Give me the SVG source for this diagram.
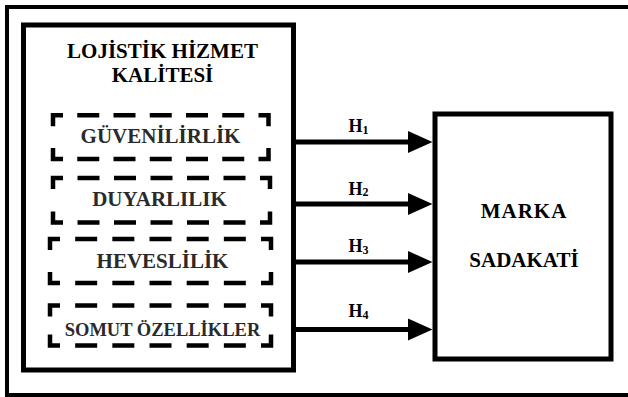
<svg xmlns="http://www.w3.org/2000/svg" width="628" height="397" viewBox="0 0 628 397">
  <defs>
    <style>
      .frame { fill: none; stroke: #000; stroke-width: 4; }
      .box { fill: #fff; stroke: #000; stroke-width: 5; }
      .dash { fill: none; stroke: #000; stroke-width: 4.5; stroke-linecap: butt; stroke-linejoin: miter; }
      .title { font-family: "Liberation Serif", "Times New Roman", serif; font-weight: bold; font-size: 21px; fill: #000; text-anchor: middle; }
      .dim { font-family: "Liberation Serif", "Times New Roman", serif; font-weight: bold; font-size: 21px; fill: #2a2a2a; text-anchor: middle; }
      .small { font-size: 18.5px; }
      .hyp { font-family: "Liberation Serif", "Times New Roman", serif; font-weight: bold; font-size: 18px; fill: #000; }
      .sub { font-size: 12px; }
      .link { stroke: #000; stroke-width: 5; fill: none; }
      .head { fill: #000; }
    </style>
  </defs>

  <rect width="628" height="397" fill="#fff"/>

  <!-- outer frame (right edge runs off the canvas) -->
  <rect class="frame" x="7" y="7" width="640" height="388"/>

  <!-- source construct with its four dimensions -->
  <g id="lojistik-hizmet-kalitesi">
    <rect class="box" x="23.5" y="25" width="270" height="345"/>
    <text class="title" x="162.5" y="58">LOJİSTİK HİZMET</text>
    <text class="title" x="162.5" y="82">KALİTESİ</text>
  </g>

  <g id="guvenilirlik">
    <path class="dash" d="M53 126.3V115.3H63 M258.5 115.3H268.5V126.3 M53 148V159H63 M258.5 159H268.5V148"/>
    <line class="dash" x1="77.25" y1="115.3" x2="244.25" y2="115.3" stroke-dasharray="22 14.25"/>
    <line class="dash" x1="77.25" y1="159" x2="244.25" y2="159" stroke-dasharray="22 14.25"/>
    <text class="dim" x="160.5" y="143.3">GÜVENİLİRLİK</text>
  </g>

  <g id="duyarlilik">
    <path class="dash" d="M53 189V178H63 M260 178H270V189 M53 211.5V222.5H63 M260 222.5H270V211.5"/>
    <line class="dash" x1="77.5" y1="178" x2="245.5" y2="178" stroke-dasharray="22 14.5"/>
    <line class="dash" x1="77.5" y1="222.5" x2="245.5" y2="222.5" stroke-dasharray="22 14.5"/>
    <text class="dim" x="159.5" y="206">DUYARLILIK</text>
  </g>

  <g id="heveslilik">
    <path class="dash" d="M50 250V239H60 M261 239H271V250 M50 272V283H60 M261 283H271V272"/>
    <line class="dash" x1="75.17" y1="239" x2="245.83" y2="239" stroke-dasharray="22 15.17"/>
    <line class="dash" x1="75.17" y1="283" x2="245.83" y2="283" stroke-dasharray="22 15.17"/>
    <text class="dim" x="162.5" y="268.3">HEVESLİLİK</text>
  </g>

  <g id="somut-ozellikler">
    <path class="dash" d="M50 316.5V305.5H60 M261 305.5H271V316.5 M50 334.5V345.5H60 M261 345.5H271V334.5"/>
    <line class="dash" x1="75.17" y1="305.5" x2="245.83" y2="305.5" stroke-dasharray="22 15.17"/>
    <line class="dash" x1="75.17" y1="345.5" x2="245.83" y2="345.5" stroke-dasharray="22 15.17"/>
    <text class="dim small" x="162.5" y="336">SOMUT ÖZELLİKLER</text>
  </g>

  <!-- target construct -->
  <g id="marka-sadakati">
    <rect class="box" x="435" y="114" width="176" height="245" stroke-width="4.5"/>
    <text class="title" x="524" y="218" letter-spacing="1">MARKA</text>
    <text class="title" x="524" y="266.5">SADAKATİ</text>
  </g>

  <!-- hypothesis arrows -->
  <g id="connectors">
    <line class="link" x1="293.5" y1="142" x2="409" y2="142"/>
    <polygon class="head" points="408,131 432.5,142 408,153"/>
    <text class="hyp" x="348.5" y="132">H<tspan class="sub" dy="1.5">1</tspan></text>

    <line class="link" x1="293.5" y1="204" x2="409" y2="204"/>
    <polygon class="head" points="408,193 432.5,204 408,215"/>
    <text class="hyp" x="348.5" y="194.5">H<tspan class="sub" dy="1.5">2</tspan></text>

    <line class="link" x1="293.5" y1="262" x2="409" y2="262"/>
    <polygon class="head" points="408,251 432.5,262 408,273"/>
    <text class="hyp" x="348.5" y="252">H<tspan class="sub" dy="1.5">3</tspan></text>

    <line class="link" x1="293.5" y1="329.5" x2="409" y2="329.5"/>
    <polygon class="head" points="408,318.5 432.5,329.5 408,340.5"/>
    <text class="hyp" x="348.5" y="317">H<tspan class="sub" dy="1.5">4</tspan></text>
  </g>
</svg>
